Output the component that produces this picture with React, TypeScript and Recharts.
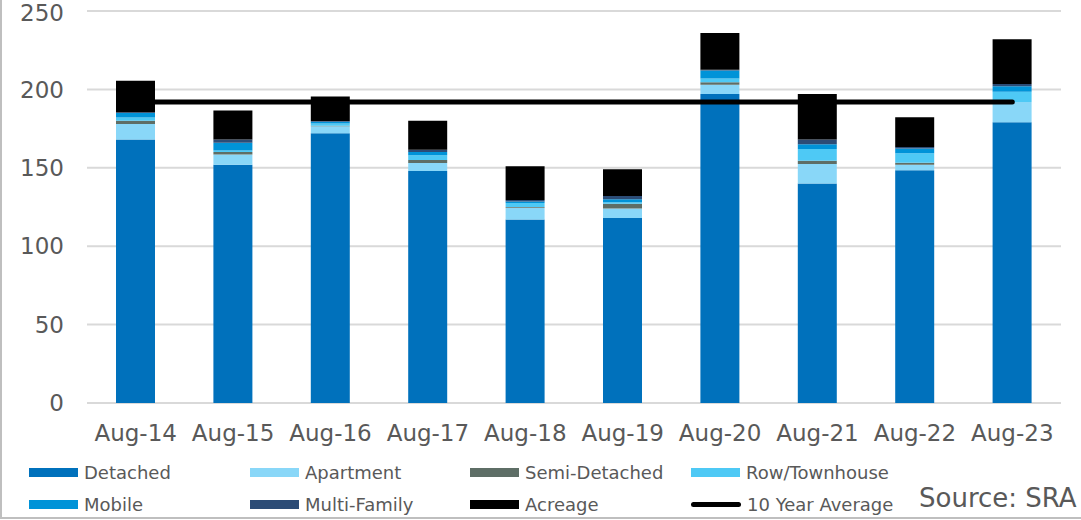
import { ComposedChart, Bar, Line, XAxis, YAxis, CartesianGrid } from 'recharts'

const months = ['Aug-14', 'Aug-15', 'Aug-16', 'Aug-17', 'Aug-18', 'Aug-19', 'Aug-20', 'Aug-21', 'Aug-22', 'Aug-23']
const detached = [168, 152, 172, 148, 117, 118, 197, 140, 148.5, 179]
const apartment = [10, 6.5, 4.5, 5, 7.5, 6, 6, 12.5, 3.5, 13]
const semiDetached = [2, 1.5, 0.3, 2, 0.5, 3, 1.5, 2, 1.3, 0]
const rowTownhouse = [2, 1, 1.5, 3, 2.5, 1, 2.5, 7.5, 6, 6.5]
const mobile = [3, 5, 1, 2, 1, 2, 5, 3, 3, 3.5]
const multiFamily = [0.5, 2, 0.5, 1.5, 1, 2, 0.5, 3, 1, 1.5]
const acreage = [20, 18.5, 15.6, 18.5, 21.5, 17, 23.5, 29, 19, 28.5]
const tenYearAverage = [192, 192, 192, 192, 192, 192, 192, 192, 192, 192]
const yTicks = [0, 50, 100, 150, 200, 250]

const series = [
  { key: 'detached', name: 'Detached', color: '#0071bc', values: detached },
  { key: 'apartment', name: 'Apartment', color: '#89d7f8', values: apartment },
  { key: 'semi', name: 'Semi-Detached', color: '#5e6e66', values: semiDetached },
  { key: 'row', name: 'Row/Townhouse', color: '#4ec9f5', values: rowTownhouse },
  { key: 'mobile', name: 'Mobile', color: '#0093d8', values: mobile },
  { key: 'multi', name: 'Multi-Family', color: '#2c4c76', values: multiFamily },
  { key: 'acreage', name: 'Acreage', color: '#000000', values: acreage },
]

const data = months.map((m, i) => {
  const row: Record<string, string | number> = { month: m, avg: tenYearAverage[i] }
  series.forEach((s) => {
    row[s.key] = s.values[i]
  })
  return row
})

const font = '"DejaVu Sans", Verdana, sans-serif'
const textColor = '#595959'

const legendItems = [
  ...series.map((s) => ({ name: s.name, color: s.color, line: false })),
  { name: '10 Year Average', color: '#000000', line: true },
]
const legendCols = [29, 250, 470, 691]
const legendRows = [472, 504]

export default function App() {
  return (
    <div style={{ position: 'absolute', left: 0, top: 0, width: 1081, height: 520, background: '#fff', fontFamily: font }}>
      <div
        style={{
          position: 'absolute',
          left: 0,
          top: 0,
          width: 1081,
          height: 517,
          borderLeft: '2px solid #bfbfbf',
          borderBottom: '2px solid #bfbfbf',
        }}
      />
      <ComposedChart width={1081} height={520} data={data} margin={{ top: 11, right: 20, bottom: 77, left: 0 }}>
        <CartesianGrid vertical={false} stroke="#d9d9d9" strokeWidth={2} />
        <XAxis
          dataKey="month"
          axisLine={false}
          tickLine={false}
          tickMargin={16}
          height={40}
          tick={{ fill: textColor, fontSize: 23, fontFamily: font }}
          interval={0}
        />
        <YAxis
          domain={[0, 250]}
          ticks={yTicks}
          axisLine={false}
          tickLine={false}
          width={87}
          tickMargin={17}
          tick={{ fill: textColor, fontSize: 23, fontFamily: font }}
        />
        {series.map((s) => (
          <Bar key={s.key} dataKey={s.key} stackId="a" fill={s.color} barSize={39} isAnimationActive={false} />
        ))}
        <Line
          dataKey="avg"
          stroke="#000000"
          strokeWidth={5}
          strokeLinecap="round"
          dot={false}
          activeDot={false}
          isAnimationActive={false}
        />
      </ComposedChart>
      {legendItems.map((item, i) => {
        const x = legendCols[i % 4]
        const y = legendRows[Math.floor(i / 4)]
        return (
          <div key={item.name} style={{ position: 'absolute', left: x, top: y - 12, height: 24, display: 'flex', alignItems: 'center' }}>
            {item.line ? (
              <div style={{ width: 50, height: 5, borderRadius: 3, background: item.color }} />
            ) : (
              <div style={{ width: 49, height: 9, background: item.color }} />
            )}
            <span style={{ marginLeft: 6, fontSize: 18, color: textColor, whiteSpace: 'nowrap' }}>{item.name}</span>
          </div>
        )
      })}
      <div style={{ position: 'absolute', left: 919, top: 483, fontSize: 26, color: textColor, whiteSpace: 'nowrap' }}>Source: SRA</div>
    </div>
  )
}
